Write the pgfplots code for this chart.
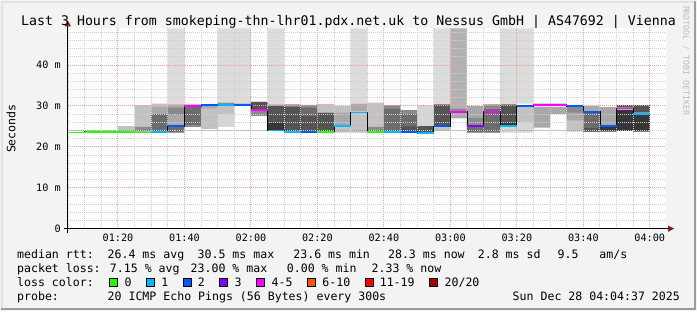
\documentclass[border=0pt]{standalone}
\usepackage{fontspec}
\setmainfont{DejaVu Sans Mono}
\usepackage{xcolor}
\usepackage{pgfplots}
\usepackage{pgfplotstable}
\pgfplotsset{compat=1.18}
\usepgfplotslibrary{fillbetween}
\usetikzlibrary{arrows.meta}

\definecolor{bgc}{HTML}{F3F3F3}
\definecolor{axred}{HTML}{8B1A1A}
\definecolor{mgrid}{HTML}{F2A0A0}
\definecolor{ngrid}{HTML}{CFCFCF}
\definecolor{wmc}{HTML}{BDBDBD}
\definecolor{bordd}{HTML}{9C9C9C}
\definecolor{borderl}{HTML}{E2E2E2}
\definecolor{cgreen}{HTML}{26FF00}
\definecolor{ccyan}{HTML}{00B8FF}
\definecolor{cblue}{HTML}{0059FF}
\definecolor{cpurple}{HTML}{7E00FF}
\definecolor{cmag}{HTML}{FF00FF}
\definecolor{corange}{HTML}{FF5500}
\definecolor{cred}{HTML}{FF0000}
\definecolor{cdred}{HTML}{A00000}
\definecolor{sL}{HTML}{DCDCDC}
\definecolor{sD}{HTML}{B2B2B2}
\definecolor{sa}{HTML}{D6D6D6}
\definecolor{sb}{HTML}{C2C2C2}
\definecolor{sc}{HTML}{A8A8A8}
\definecolor{sd}{HTML}{8A8A8A}
\definecolor{se}{HTML}{6C6C6C}
\definecolor{sf}{HTML}{545454}
\definecolor{sh}{HTML}{363636}
\pagecolor{bgc}

\pgfplotsset{
  layers/smoke/.define layer set={axis background,pre main,axis grid,axis ticks,axis lines,main,axis tick labels,axis descriptions,axis foreground}{
    grid style={/pgfplots/on layer=axis grid},
    tick style={/pgfplots/on layer=axis ticks},
    axis line style={/pgfplots/on layer=axis lines},
    label style={/pgfplots/on layer=axis descriptions},
    legend style={/pgfplots/on layer=axis descriptions},
    title style={/pgfplots/on layer=axis descriptions},
    colorbar style={/pgfplots/on layer=axis descriptions},
    ticklabel style={/pgfplots/on layer=axis tick labels},
    axis background@ style={/pgfplots/on layer=axis background},
    3d box foreground style={/pgfplots/on layer=axis foreground},
  },
}

\newcommand{\lgd}{\fontsize{11.6}{13}\selectfont}

% smoke bands: lo/hi per gray level, one row per 5-minute step (start time in minutes after 00:00)
\pgfplotstableread{
t Llo Lhi Dlo Dhi alo ahi blo bhi clo chi dlo dhi elo ehi flo fhi hlo hhi
64.9 24 24 24 24 24 24 24 24 24 24 24 24 24 24 24 24 24 24
70 24 24 24 24 24 24 24 24 24 24 24 24 24 24 24 24 24 24
75 24 24 24 24 24 24 24 24 24 24 24 24 24 24 24 24 24 24
80 24 24 24 24 24 24 23.7 25.1 24 24 24 24 24 24 24 24 24 24
85 24 24 24 24 24 24 24.9 30.2 24 24 23.7 24.9 24 24 24 24 24 24
90 24 24 24 24 24 24 23.7 30.6 23.7 29.8 24 24 23.9 28.0 24 24 24 24
95 30.4 49 24 24 24 24 24 24 25.1 30.4 27.8 29.6 23.5 25.1 24 24 24 24
100 24 24 24 24 24 24 29.8 30.5 24 24 24.9 25.4 25.4 29.8 24 24 24 24
105 24 24 24 24 24 24 24.4 30.4 29.4 30.2 24 24 24 24 24 24 24 24
110 30.8 49 24 24 24.9 30.3 28.0 30.3 24 24 30.1 30.8 24 24 24 24 24 24
115 30.6 49 24 24 24 24 24 24 24 24 30.2 30.6 24 24 24 24 24 24
120 24 24 24 24 24 24 24 24 24 24 27.6 31.0 24 24 29.3 31.0 24 24
125 30.4 49 24 24 24 24 24 24 23.9 30.4 24 24 24 24 25.9 30.0 24.1 25.9
130 24 24 24 24 24 24 24 24 24 24 23.9 30.4 24 24 23.9 29.8 24 24
135 24 24 24 24 24 24 24 24 24 24 23.9 30.3 23.9 29.6 23.9 27.5 24 24
140 24 24 24 24 24 24 28.4 30.5 24 24 24 24 24 24 23.9 28.4 24 24
145 24 24 24 24 24 24 23.5 30.0 25.3 28.4 24 24 24 24 24 24 24 24
150 30.6 49 24 24 24 24 23.5 28.4 28.6 30.6 24 24 24 24 24 24 24 24
155 24 24 24 24 24 24 24.9 30.8 24 24 23.9 24.9 24 24 24 24 24 24
160 24 24 24 24 24 24 24 24 24 24 23.9 30.2 23.9 29.3 24 24 24 24
165 24 24 24 24 24 24 24 24 24 24 23.9 29.0 23.9 28.0 23.9 25.0 24 24
170 24 24 24 24 25.1 30.2 24 24 24 24 24 24 24 24 23.5 25.1 24 24
175 30.4 49 24 24 24 24 23.9 24.9 24 24 24 24 24 24 25.3 30.4 24 24
180 24 24 29.4 49 24 24 24 24 27.0 28.4 28.4 29.4 24 24 24 24 24 24
185 24 24 24 24 24 24 24 24 27.1 30.0 25.3 27.1 23.5 25.0 24 24 24 24
190 24 24 24 24 24 24 24 24 24 24 29.4 30.4 23.5 29.4 24 24 24 24
195 30.4 49 24 24 23.5 24.9 24 24 24 24 24 24 24 24 25.9 30.4 25.3 25.9
200 30.6 49 24 24 23.5 29.8 26.0 29.8 24 24 24 24 24 24 24 24 24 24
205 24 24 24 24 24 24 24 24 24.7 29.8 30.2 30.6 24 24 24 24 24 24
210 24 24 24 24 24 24 24 24 28.1 29.8 30.2 30.6 24 24 24 24 24 24
215 24 24 24 24 24 24 23.7 30.0 26.5 30.0 28.4 29.9 24 24 24 24 24 24
220 24 24 24 24 24 24 24 24 28.6 30.0 24 24 23.7 28.4 23.7 24.6 24 24
225 24 24 24 24 24 24 24 24 25.3 29.8 24 24 24 24 24 24 23.7 24.9
230 24 24 24 24 24 24 24 24 24 24 24 24 24 24 29.6 30.2 23.9 29.1
235 24 24 24 24 24 24 24 24 24 24 24 24 24 24 28.4 30.2 23.7 27.8
240 24 24 24 24 24 24 24 24 24 24 24 24 24 24 28.4 30.2 23.7 27.8
}\smoke

\pgfplotstableread{
t v
64.9 23.5
70 23.7
75 23.7
80 23.7
85 23.5
90 23.7
95 25.1
100 30.0
105 30.2
110 30.2
115 30.2
120 29.1
125 24.0
130 23.7
135 23.7
140 23.7
145 25.1
150 28.4
155 23.7
160 23.7
165 23.7
170 23.4
175 25.1
180 28.6
185 25.1
190 28.6
195 25.1
200 30.0
205 30.2
210 30.2
215 30.0
220 28.6
225 25.1
230 29.4
235 28.1
240 28.1
}\med

\begin{document}
\begin{tikzpicture}
\path (0pt,0pt) rectangle (697pt,310pt);
\begin{axis}[
  set layers=smoke,
  at={(67pt,81.7pt)}, anchor=south west,
  scale only axis, width=600pt, height=200.9pt,
  xmin=64.9, xmax=244.9, ymin=0, ymax=49,
  axis background/.style={fill=white},
  axis x line=bottom, axis y line=left,
  axis line style={line width=0.9pt, black},
  x axis line style={-{Triangle[length=6pt,width=6pt,color=axred]}, shorten >=-8pt, shorten <=-4pt},
  y axis line style={-{Triangle[length=6pt,width=6pt,color=axred]}, shorten >=-8pt, shorten <=-4pt},
  xtick={80,100,...,240},
  xticklabels={01:20,01:40,02:00,02:20,02:40,03:00,03:20,03:40,04:00},
  minor xtick={65,70,75,85,90,95,105,110,115,125,130,135,145,150,155,165,170,175,185,190,195,205,210,215,225,230,235},
  ytick={0,10,20,30,40},
  yticklabels={0,10 m,20 m,30 m,40 m},
  minor ytick={2,4,6,8,12,14,16,18,22,24,26,28,32,34,36,38,42,44,46,48},
  grid=both,
  major grid style={draw=mgrid, dash pattern=on 1pt off 1pt, line width=1pt},
  minor grid style={draw=ngrid, dash pattern=on 1pt off 1pt, line width=1pt},
  major tick length=0pt, minor tick length=0pt,
  tick label style={font=\fontsize{10.2}{12}\selectfont, text=black},
  xticklabel style={anchor=base, yshift=-13.1pt, inner sep=0pt},
  yticklabel style={anchor=east, xshift=-7pt, inner sep=0pt},
  unbounded coords=jump,
]
\pgfplotsinvokeforeach{L,D,a,b,c,d,e,f,h}{
  \addplot[draw=none, forget plot, const plot mark left, name path=lo#1] table[x=t, y=#1lo] {\smoke};
  \addplot[draw=none, forget plot, const plot mark left, name path=hi#1] table[x=t, y=#1hi] {\smoke};
  \addplot[fill=s#1, draw=none, forget plot] fill between[of=lo#1 and hi#1];
}
\addplot[black, line width=0.8pt, const plot mark left, forget plot] table[x=t, y=v] {\med};
\addplot[cgreen, line width=1.8pt, forget plot] coordinates {(64.9,23.5)(70,23.5) (70,nan) (70,23.7)(85,23.7) (85,nan) (85,23.5)(90,23.5) (90,nan) (140,23.7)(145,23.7) (145,nan) (155,23.7)(160,23.7)};
\addplot[ccyan, line width=1.8pt, forget plot] coordinates {(90,23.7)(95,23.7) (95,nan) (110,30.2)(115,30.2) (115,nan) (125,24.0)(130,24.0) (130,nan) (130,23.7)(135,23.7) (135,nan) (145,25.1)(150,25.1) (150,nan) (150,28.4)(155,28.4) (155,nan) (160,23.7)(165,23.7) (165,nan) (170,23.4)(175,23.4) (175,nan) (195,25.1)(200,25.1) (200,nan) (235,28.1)(240,28.1)};
\addplot[cblue, line width=1.8pt, forget plot] coordinates {(95,25.1)(100,25.1) (100,nan) (105,30.2)(110,30.2) (110,nan) (115,30.2)(120,30.2) (120,nan) (135,23.7)(140,23.7) (140,nan) (165,23.7)(170,23.7) (170,nan) (175,25.1)(180,25.1) (180,nan) (200,30.0)(205,30.0) (205,nan) (215,30.0)(220,30.0) (220,nan) (220,28.6)(225,28.6) (225,nan) (225,25.1)(230,25.1)};
\addplot[cpurple, line width=1.8pt, forget plot] coordinates {(185,25.1)(190,25.1)};
\addplot[cmag, line width=1.8pt, forget plot] coordinates {(100,30.0)(105,30.0) (105,nan) (120,29.1)(125,29.1) (125,nan) (180,28.6)(185,28.6) (185,nan) (190,28.6)(195,28.6) (195,nan) (205,30.2)(215,30.2) (215,nan) (230,29.4)(235,29.4)};
\end{axis}

% title, unit label, watermark
\node[anchor=base, inner sep=0pt, font=\fontsize{13.3}{15}\selectfont] at (348.5pt,285.8pt) {Last 3 Hours from smokeping-thn-lhr01.pdx.net.uk to Nessus GmbH | AS47692 | Vienna};
\node[rotate=90, inner sep=0pt, font=\lgd] at (10pt,182pt) {Seconds};
\node[rotate=-90, inner sep=0pt, font=\fontsize{8.3}{9}\selectfont, text=wmc] at (687pt,250pt) {RRDTOOL / TOBI OETIKER};

% legend lines
\begin{scope}[every node/.style={anchor=base west, inner sep=0pt, font=\lgd}]
\node at (16pt,51.5pt) {median rtt:~~26.4 ms avg};
\node at (197pt,51.5pt) {30.5 ms max};
\node at (293pt,51.5pt) {23.6 ms min};
\node at (388pt,51.5pt) {28.3 ms now};
\node at (478pt,51.5pt) {2.8 ms sd};
\node at (558pt,51.5pt) {9.5~~~am/s};
\node at (16pt,37.7pt) {packet loss: 7.15 \% avg};
\node at (190pt,37.7pt) {23.00 \% max};
\node at (286.5pt,37.7pt) {0.00 \% min};
\node at (371.5pt,37.7pt) {2.33 \% now};
\node at (16pt,23.9pt) {loss color:};
\node at (123.7pt,23.9pt) {0};
\node at (160.7pt,23.9pt) {1};
\node at (197.2pt,23.9pt) {2};
\node at (234.2pt,23.9pt) {3};
\node at (271.2pt,23.9pt) {4-5};
\node at (322.2pt,23.9pt) {6-10};
\node at (379.7pt,23.9pt) {11-19};
\node at (444.7pt,23.9pt) {20/20};
\node at (16pt,10.1pt) {probe:~~~~~~~20 ICMP Echo Pings (56 Bytes) every 300s};
\node[anchor=base east] at (681pt,10.1pt) {Sun Dec 28 04:04:37 2025};
\end{scope}
\begin{scope}[line width=0.8pt]
\filldraw[fill=cgreen, draw=black] (109pt,24.2pt) rectangle ++(8pt,8pt);
\filldraw[fill=ccyan, draw=black] (146pt,24.2pt) rectangle ++(8pt,8pt);
\filldraw[fill=cblue, draw=black] (182.5pt,24.2pt) rectangle ++(8pt,8pt);
\filldraw[fill=cpurple, draw=black] (219.5pt,24.2pt) rectangle ++(8pt,8pt);
\filldraw[fill=cmag, draw=black] (256.5pt,24.2pt) rectangle ++(8pt,8pt);
\filldraw[fill=corange, draw=black] (307.5pt,24.2pt) rectangle ++(8pt,8pt);
\filldraw[fill=cred, draw=black] (365pt,24.2pt) rectangle ++(8pt,8pt);
\filldraw[fill=cdred, draw=black] (430pt,24.2pt) rectangle ++(8pt,8pt);
\end{scope}

% image frame
\draw[borderl, line width=2pt] (1pt,0pt) -- (1pt,309pt) -- (697pt,309pt);
\draw[bordd, line width=2pt] (0pt,1pt) -- (696pt,1pt) -- (696pt,310pt);
\end{tikzpicture}
\end{document}
